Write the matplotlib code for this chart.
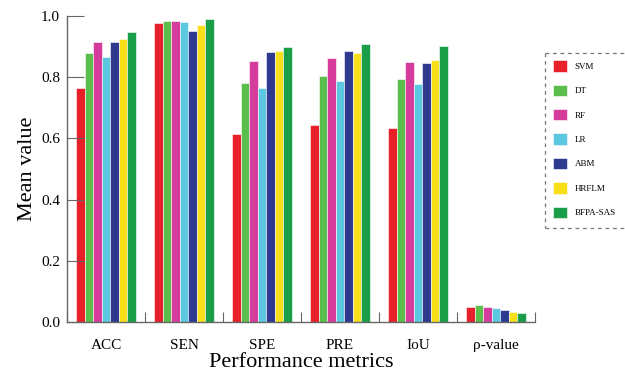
import matplotlib
matplotlib.use("Agg")
import matplotlib.pyplot as plt
import numpy as np
from matplotlib.lines import Line2D

categories = ["ACC", "SEN", "SPE", "PRE", "IoU", "ρ-value"]
methods = ["SVM", "DT", "RF", "LR", "ABM", "HRFLM", "BFPA-SAS"]
svm   = [0.765, 0.977, 0.614, 0.643, 0.634, 0.048]
dt    = [0.879, 0.984, 0.781, 0.804, 0.794, 0.054]
rf    = [0.915, 0.984, 0.853, 0.863, 0.850, 0.050]
lr    = [0.866, 0.980, 0.765, 0.788, 0.777, 0.047]
abm   = [0.915, 0.951, 0.882, 0.886, 0.846, 0.040]
hrflm = [0.925, 0.971, 0.884, 0.880, 0.856, 0.033]
bfpa  = [0.948, 0.990, 0.900, 0.910, 0.903, 0.031]
series = [svm, dt, rf, lr, abm, hrflm, bfpa]
colors = ["#e8202a", "#5bbd4b", "#d63c9b", "#5bc8e0", "#2e3a90", "#f7e01a", "#1a9f48"]

plt.rcParams['font.family'] = ['Liberation Serif', 'DejaVu Serif']

fig = plt.figure(figsize=(6.25, 3.73), dpi=100)
ax = fig.add_axes([67/625, 1-322/373, (535-67)/625, (322-16)/373])

x = np.arange(len(categories))
slot = 0.77 / 7
for i, (vals, c, m) in enumerate(zip(series, colors, methods)):
    ax.bar(x - 0.385 + slot*(i+0.5), vals, width=slot, color=c, edgecolor='white',
           linewidth=0.4, label=m)

ax.set_xlim(-0.5, len(categories)-0.5)
ax.set_ylim(0, 1.0)
ax.set_yticks([0.0, 0.2, 0.4, 0.6, 0.8, 1.0])
ax.set_yticklabels(["0.0", "0.2", "0.4", "0.6", "0.8", "1.0"], fontsize=11)
ax.set_xticks(np.arange(-0.5, len(categories)), labels=[""]*(len(categories)+1))
ax.set_xticks(x, minor=True)
ax.set_xticklabels(categories, minor=True, fontsize=11)
ax.tick_params(axis='x', which='major', direction='in', length=7, color='#666666')
ax.tick_params(axis='x', which='minor', length=0, pad=12)
ax.tick_params(axis='y', direction='in', length=12, color='#666666', pad=5)
for s in ['top', 'right']:
    ax.spines[s].set_visible(False)
for s in ['left', 'bottom']:
    ax.spines[s].set_color('#666666')
    ax.spines[s].set_linewidth(1.0)

ax.set_xlabel("Performance metrics", fontsize=16, labelpad=1)
ax.set_ylabel("Mean value", fontsize=16, labelpad=3)

bx0, bx1 = 545/625, 1.0
by0, by1 = 1-228/373, 1-53/373
for xs, ys in [([bx0, bx1], [by1, by1]), ([bx0, bx0], [by1, by0]), ([bx0, bx1], [by0, by0])]:
    fig.lines.append(Line2D(xs, ys, transform=fig.transFigure, color='#777777',
                            linestyle=(0, (3, 3)), linewidth=0.9))

leg = fig.legend(loc='upper left', bbox_to_anchor=(546/625, 1-53/373), frameon=False,
                 fontsize=6.5, handlelength=1.55, handleheight=1.55, labelspacing=1.45,
                 handletextpad=0.8, borderpad=0.3)

fig.savefig("out.png", dpi=100)
